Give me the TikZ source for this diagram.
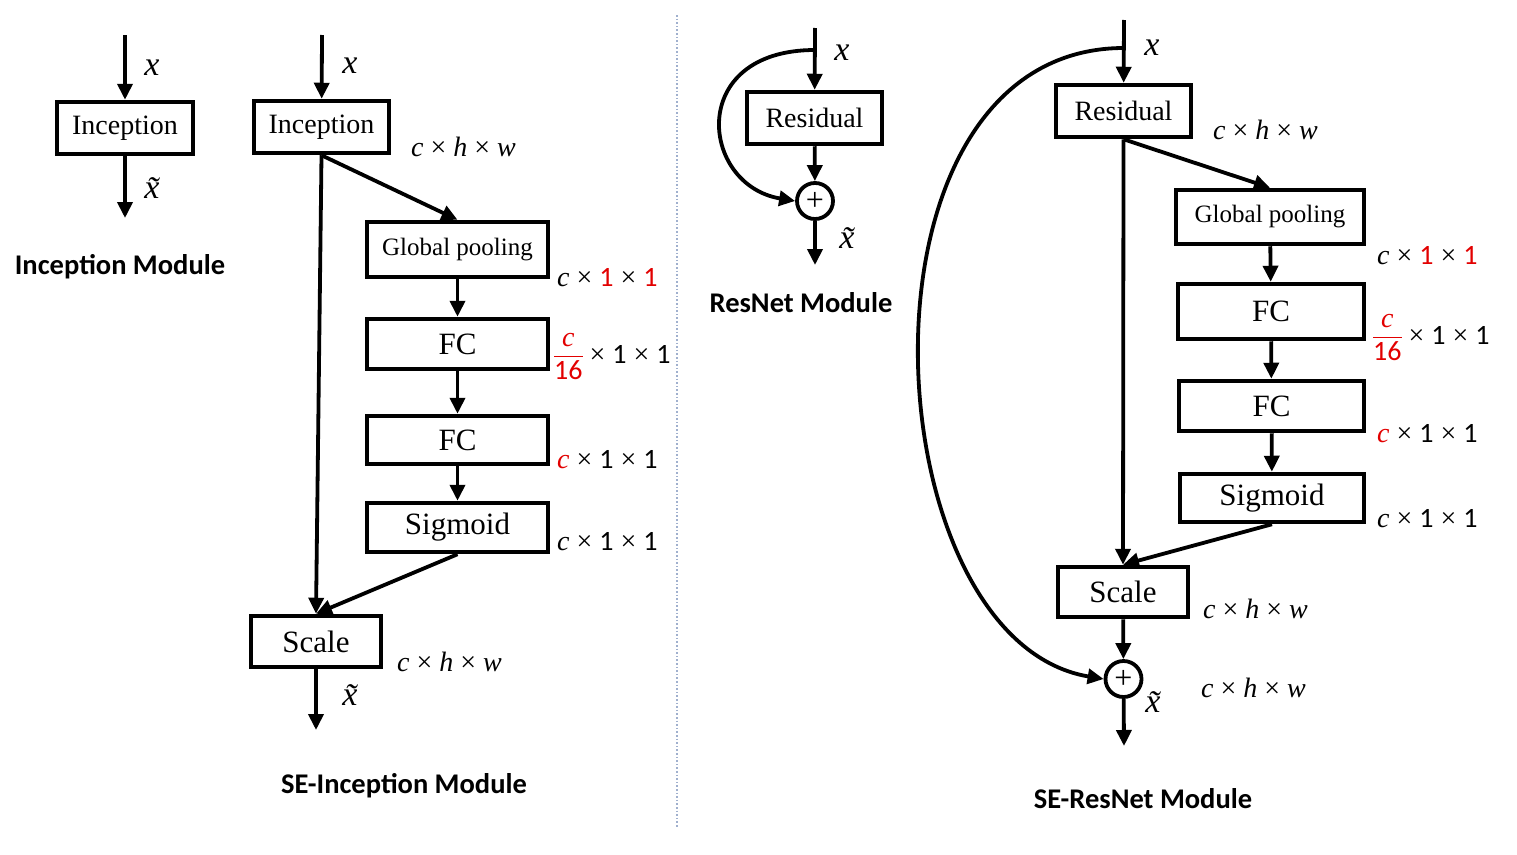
\documentclass[tikz,border=0pt]{standalone}
\usepackage{fontspec}
\setmainfont{Liberation Serif}
\newfontfamily\titlefont{Carlito}
\newfontfamily\digitfont{Carlito}
\usetikzlibrary{arrows.meta}
\definecolor{divcol}{RGB}{160,176,206}
\definecolor{dimred}{RGB}{226,0,0}
% italic letters, sans digits and a times sign for the size annotations
\newcommand{\vr}[1]{{\itshape #1}}
\newcommand{\dg}[1]{{\digitfont #1}}
\newcommand{\tms}{\kern0.25em\texttimes\kern0.25em}
\newcommand{\rd}[1]{\textcolor{dimred}{#1}}
% c over 16, in red, with a red bar
\newcommand{\frc}{\textcolor{dimred}{\setlength{\arrayrulewidth}{1.6pt}%
  \renewcommand{\arraystretch}{0.95}\setlength{\tabcolsep}{0pt}%
  \begin{tabular}[c]{@{}c@{}}\vr{c}\\[1pt]\hline\rule{0pt}{22pt}\dg{16}\end{tabular}}}

\begin{document}
\begin{tikzpicture}[x=1pt,y=-1pt,
  box/.style={draw, line width=4.5pt, inner sep=0pt, fill=white,
    font=\fontsize{28}{30}\selectfont},
  arr/.style={line width=3.8pt, -{Triangle[length=16pt,width=15pt]}},
  dimlbl/.style={anchor=west, inner sep=0pt, font=\fontsize{28}{30}\selectfont},
  var/.style={inner sep=0pt, font=\fontsize{34}{34}\selectfont\itshape},
  title/.style={inner sep=0pt, font=\titlefont\bfseries\fontsize{28.5}{32}\selectfont},
  sum/.style={circle, draw, line width=3.8pt, minimum size=36pt, inner sep=0pt,
    font=\fontsize{32}{32}\selectfont}]

\useasboundingbox (0,0) rectangle (1517,854);

% separator between the two halves
\coordinate (divtop) at (677,15);
\coordinate (divbot) at (677,828);
\draw[divcol, dotted, line width=1.6pt] (divtop) -- (divbot);

% ---------------- Inception module ----------------
\coordinate (in1) at (125,35);
\coordinate (out1) at (125,218);
\node[box, minimum width=136pt, minimum height=52pt] (inc1) at (125,128) {Inception};
\draw[arr] (in1) -- (inc1);
\draw[arr] (inc1) -- (out1);
\node[var] (x1) at (152,68) {x};
\node[var] (xt1) at (152,188) {\~{x}};
\node[title] (t1) at (120,267) {Inception Module};

% ---------------- SE-Inception module ----------------
\coordinate (in2) at (322,35);
\coordinate (out2) at (316,730);
\node[box, minimum width=135pt, minimum height=52pt] (inc2) at (321.5,127) {Inception};
\node[box, minimum width=181pt, minimum height=55pt, font=\fontsize{25}{28}\selectfont] (gp2) at (457.5,249.5) {Global pooling};
\node[box, minimum width=181pt, minimum height=50pt, font=\fontsize{31}{32}\selectfont] (fc2a) at (457.5,344) {FC};
\node[box, minimum width=181pt, minimum height=48pt, font=\fontsize{31}{32}\selectfont] (fc2b) at (457.5,440) {FC};
\node[box, minimum width=181pt, minimum height=49pt, font=\fontsize{31}{32}\selectfont] (sig2) at (457.5,527.5) {Sigmoid};
\node[box, minimum width=130pt, minimum height=51pt, font=\fontsize{31}{32}\selectfont] (sc2) at (316,641.5) {Scale};

\draw[arr] (in2) -- (inc2);
\draw[arr] (inc2.south) -- (gp2.north);
\draw[arr] (inc2.south) -- (sc2.north);
\draw[arr] (gp2) -- (fc2a);
\draw[arr] (fc2a) -- (fc2b);
\draw[arr] (fc2b) -- (sig2);
\draw[arr] (sig2.south) -- (sc2.north);
\draw[arr] (sc2) -- (out2);

\node[var] (x2) at (350,66) {x};
\node[var] (xt2) at (350,695) {\~{x}};
\node[dimlbl] (d2a) at (411,147) {\vr{c}\tms\vr{h}\tms\vr{w}};
\node[dimlbl] (d2b) at (557,278) {\vr{c}\tms\rd{\dg{1}}\tms\rd{\dg{1}}};
\node[dimlbl] (d2c) at (554,357) {\frc\tms\dg{1}\tms\dg{1}};
\node[dimlbl] (d2d) at (557,460) {\rd{\vr{c}}\tms\dg{1}\tms\dg{1}};
\node[dimlbl] (d2e) at (557,542) {\vr{c}\tms\dg{1}\tms\dg{1}};
\node[dimlbl] (d2f) at (397,662) {\vr{c}\tms\vr{h}\tms\vr{w}};
\node[title] (t2) at (404,786) {SE-Inception Module};

% ---------------- ResNet module ----------------
\coordinate (in3) at (815,28);
\coordinate (br3) at (815,50);
\coordinate (out3) at (815,265);
\node[box, minimum width=135pt, minimum height=52pt] (res3) at (814.5,118) {Residual};
\node[sum] (pl3) at (815,201) {+};
\draw[arr] (in3) -- (res3);
\draw[arr] (res3) -- (pl3);
\draw[arr] (br3) .. controls (686,50) and (700,185) .. (pl3.west);
\draw[arr] (pl3) -- (out3);
\node[var] (x3) at (842,53) {x};
\node[var] (xt3) at (847,238) {\~{x}};
\node[title] (t3) at (801,303) {ResNet Module};

% ---------------- SE-ResNet module ----------------
\coordinate (in4) at (1124,20);
\coordinate (br4) at (1124,48);
\coordinate (out4) at (1124,746);
\node[box, minimum width=135pt, minimum height=52pt] (res4) at (1123.5,111) {Residual};
\node[box, minimum width=188pt, minimum height=54pt, font=\fontsize{25}{28}\selectfont] (gp4) at (1270,217) {Global pooling};
\node[box, minimum width=186pt, minimum height=55pt, font=\fontsize{31}{32}\selectfont] (fc4a) at (1271,311.5) {FC};
\node[box, minimum width=185pt, minimum height=50pt, font=\fontsize{31}{32}\selectfont] (fc4b) at (1271.5,406) {FC};
\node[box, minimum width=184pt, minimum height=48pt, font=\fontsize{31}{32}\selectfont] (sig4) at (1272,498) {Sigmoid};
\node[box, minimum width=130pt, minimum height=50pt, font=\fontsize{31}{32}\selectfont] (sc4) at (1123,592) {Scale};
\node[sum] (pl4) at (1123.5,679) {+};

\draw[arr] (in4) -- (res4);
\draw[arr] (res4.south) -- (gp4.north);
\draw[arr] (res4.south) -- (sc4.north);
\draw[arr] (gp4) -- (fc4a);
\draw[arr] (fc4a) -- (fc4b);
\draw[arr] (fc4b) -- (sig4);
\draw[arr] (sig4.south) -- (sc4.north);
\draw[arr] (sc4) -- (pl4);
\draw[arr] (br4) .. controls (840,48) and (870,640) .. (pl4.west);
\draw[arr] (pl4) -- (out4);

\node[var] (x4) at (1152,48) {x};
\node[var] (xt4) at (1153,702) {\~{x}};
\node[dimlbl] (d4a) at (1213,130) {\vr{c}\tms\vr{h}\tms\vr{w}};
\node[dimlbl] (d4b) at (1377,256) {\vr{c}\tms\rd{\dg{1}}\tms\rd{\dg{1}}};
\node[dimlbl] (d4c) at (1373,338) {\frc\tms\dg{1}\tms\dg{1}};
\node[dimlbl] (d4d) at (1377,434) {\rd{\vr{c}}\tms\dg{1}\tms\dg{1}};
\node[dimlbl] (d4e) at (1377,519) {\vr{c}\tms\dg{1}\tms\dg{1}};
\node[dimlbl] (d4f) at (1203,609) {\vr{c}\tms\vr{h}\tms\vr{w}};
\node[dimlbl] (d4g) at (1201,688) {\vr{c}\tms\vr{h}\tms\vr{w}};
\node[title] (t4) at (1143,799) {SE-ResNet Module};

\end{tikzpicture}
\end{document}
